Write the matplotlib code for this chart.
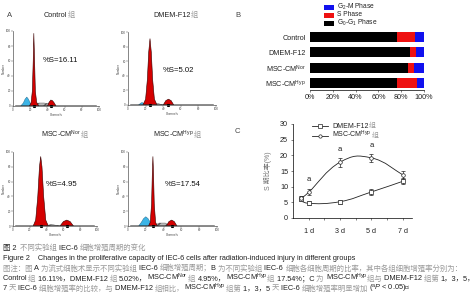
import numpy as np
import matplotlib
matplotlib.use("Agg")
import matplotlib.pyplot as plt
from matplotlib.path import Path
from matplotlib.patches import PathPatch, Rectangle

plt.rcParams['font.family'] = ['Liberation Sans', 'Noto Sans CJK SC', 'DejaVu Sans']
plt.rcParams['mathtext.fontset'] = 'custom'
plt.rcParams['mathtext.rm'] = 'Liberation Sans'
plt.rcParams['mathtext.it'] = 'Liberation Sans:italic'
plt.rcParams['axes.linewidth'] = 0.5

# ---- panel A: cell cycle histograms (channel, count)
ctrl_g1_ch = [19, 21, 22.5, 23.5, 24.2, 25, 26, 27.5, 30]
ctrl_g1_ct = [0, 4, 20, 60, 97, 65, 20, 5, 0]
ctrl_g2_ch = [40, 42, 44, 46, 48, 50]
ctrl_g2_ct = [0, 5, 8, 7, 4, 0]
ctrl_apo_ch = [9, 12, 14, 16, 18, 20, 22]
ctrl_apo_ct = [0, 4, 9, 12, 9, 4, 0]
ctrl_s_ch = [24, 30, 36, 42, 46]
ctrl_s_ct = [0, 4, 4, 3, 0]

dm_g1_ch = [17, 20, 22, 23.5, 25, 26.5, 28, 30, 33]
dm_g1_ct = [0, 8, 35, 72, 91, 72, 35, 8, 0]
dm_g2_ch = [40, 43, 46, 49, 52]
dm_g2_ct = [0, 6, 8, 6, 0]
dm_apo_ch = [12, 15, 17, 19]
dm_apo_ct = [0, 3, 3, 0]
dm_s_ch = [28, 34, 40]
dm_s_ct = [0, 2, 0]

nor_g1_ch = [24, 27, 29.5, 31.5, 33, 34.5, 36.5, 39, 42]
nor_g1_ct = [0, 8, 40, 80, 94, 80, 40, 8, 0]
nor_g2_ch = [56, 60, 64, 68, 72]
nor_g2_ct = [0, 6, 8, 6, 0]
nor_s_ch = [36, 46, 56]
nor_s_ct = [0, 2, 0]

hyp_g1_ch = [23, 25, 26.5, 27.3, 28, 28.7, 29.5, 31, 33]
hyp_g1_ct = [0, 5, 30, 70, 94, 70, 30, 5, 0]
hyp_g2_ch = [43, 46, 49, 52, 55]
hyp_g2_ct = [0, 6, 8, 6, 0]
hyp_apo_ch = [12, 15, 17.5, 20, 22.5, 25, 27]
hyp_apo_ct = [0, 5, 10, 12.5, 10, 5, 0]
hyp_s_ch = [29, 35, 42, 47]
hyp_s_ct = [0, 4, 4, 0]

s_labels = ["%S=16.11", "%S=5.02", "%S=4.95", "%S=17.54"]

# ---- panel B: phase percentages
groups = ["Control", "DMEM-F12", r"MSC-CM$^{\mathrm{Nor}}$", r"MSC-CM$^{\mathrm{Hyp}}$"]
g0g1 = [76.0, 87.7, 86.3, 76.0]
s_phase = [16.11, 5.02, 4.95, 17.54]
g2m = [7.89, 7.28, 8.75, 6.46]

# ---- panel C: S phase ratio over time
days = [0.5, 1, 3, 5, 7]
dmem_s = [6.2, 4.7, 5.2, 8.3, 11.7]
dmem_err = [0.7, 0.6, 0.7, 1.0, 1.0]
hyp_s = [6.4, 8.2, 17.8, 19.2, 13.8]
hyp_err = [0.7, 1.0, 1.5, 1.3, 1.2]
sig_days = [1, 3, 5]
sig_y = [11.3, 20.6, 22.1]

W, H = 474, 300
fig = plt.figure(figsize=(4.74, 3.0), dpi=100)
cap = fig.add_axes([0, 0, 1, 1], zorder=10)
cap.axis('off')
cap.patch.set_alpha(0)
cap.set_xlim(0, W)
cap.set_ylim(H, 0)

DARK = '#222222'
LIGHT = '#9a9a9a'


def chain(x, y, parts, size):
    # parts: list of (text, color); placed one after another on one baseline
    prev = cap.text(x, y, parts[0][0], color=parts[0][1], fontsize=size,
                    va='baseline', ha='left')
    for txt, col in parts[1:]:
        prev = cap.annotate(txt, xy=(1, y), xycoords=(prev, 'data'),
                            color=col, fontsize=size, va='baseline', ha='left')
    return prev


def px_axes(x0, y0, x1, y1):
    return fig.add_axes([x0 / W, 1 - y1 / H, (x1 - x0) / W, (y1 - y0) / H])


def histo(ax, g1, g2, apo, s):
    ax.plot([2, 97], [0.8, 0.8], color='#333333', lw=0.4)
    ax.fill(s[0], s[1], facecolor='#bbbbbb', edgecolor='#555555', lw=0.3, hatch='////')
    if apo is not None:
        ax.fill(apo[0], apo[1], facecolor='#3cb4e6', edgecolor='#1a5e80', lw=0.3)
    ax.fill(g1[0], g1[1], facecolor='#d40000', edgecolor='#300000', lw=0.4)
    ax.fill(g2[0], g2[1], facecolor='#d40000', edgecolor='#300000', lw=0.4)
    ax.plot([g1[0][4], g2[0][2]], [0, 0], 's', ms=1.2, color='k', clip_on=False)
    ax.set_xlim(0, 100)
    ax.set_ylim(0, 100)
    ax.set_xticks(np.arange(0, 101, 20))
    ax.set_yticks(np.arange(0, 101, 20))
    ax.tick_params(labelsize=2.2, length=1.2, width=0.3, pad=0.5, colors='#444444')
    ax.set_xlabel('Channels', fontsize=2.2, labelpad=0.3, color='#444444')
    ax.set_ylabel('Number', fontsize=2.2, labelpad=0.3, color='#444444')
    for sp in ['top', 'right']:
        ax.spines[sp].set_visible(False)
    for sp in ['left', 'bottom']:
        ax.spines[sp].set_color('#555555')


boxes = [(13, 31, 99, 106), (128, 32, 216, 105), (13, 152, 97, 226), (128, 152, 217, 226)]
hdata = [
    ((ctrl_g1_ch, ctrl_g1_ct), (ctrl_g2_ch, ctrl_g2_ct), (ctrl_apo_ch, ctrl_apo_ct), (ctrl_s_ch, ctrl_s_ct)),
    ((dm_g1_ch, dm_g1_ct), (dm_g2_ch, dm_g2_ct), (dm_apo_ch, dm_apo_ct), (dm_s_ch, dm_s_ct)),
    ((nor_g1_ch, nor_g1_ct), (nor_g2_ch, nor_g2_ct), None, (nor_s_ch, nor_s_ct)),
    ((hyp_g1_ch, hyp_g1_ct), (hyp_g2_ch, hyp_g2_ct), (hyp_apo_ch, hyp_apo_ct), (hyp_s_ch, hyp_s_ct)),
]
label_pos = [(43, 61), (163, 71), (46, 185), (165, 185)]
title_pos = [(44, 17), (153, 17), (41, 137), (153, 137)]
for box, hd, lab, lp, tp, g in zip(boxes, hdata, s_labels, label_pos, title_pos, groups):
    ax = px_axes(*box)
    ax.patch.set_alpha(0)
    histo(ax, *hd)
    cap.text(lp[0], lp[1], lab, fontsize=5.6, color='#111111', va='center', ha='left')
    chain(tp[0], tp[1], [(g, DARK), ('组', LIGHT)], 5.2)

cap.text(7, 17, 'A', fontsize=5.5, color='#444444', va='baseline')
cap.text(235, 17, 'B', fontsize=5.5, color='#444444', va='baseline')
cap.text(235, 133, 'C', fontsize=5.5, color='#444444', va='baseline')

# ---- panel B
axb = px_axes(310, 30, 424, 90)
yb = np.arange(len(groups))
axb.barh(yb, g0g1, height=0.66, color='black')
axb.barh(yb, s_phase, left=g0g1, height=0.66, color='#ee1111')
axb.barh(yb, g2m, left=np.add(g0g1, s_phase), height=0.66, color='#1111ee')
axb.set_ylim(3.46, -0.46)
axb.set_xlim(0, 100)
axb.set_xticks(np.arange(0, 101, 20))
axb.set_xticklabels(['%d%%' % v for v in range(0, 101, 20)])
axb.set_yticks(yb)
axb.set_yticklabels(groups)
axb.tick_params(axis='x', labelsize=5.2, length=1.5, width=0.4, pad=1.5, colors='#222222')
axb.tick_params(axis='y', labelsize=5.2, length=0, pad=3, colors='#222222')
for sp in ['top', 'right', 'left']:
    axb.spines[sp].set_visible(False)

leg_items = [('#1111ee', r'G$_2$-M Phase'), ('#ee1111', 'S Phase'), ('black', r'G$_0$-G$_1$ Phase')]
for i, (c, t) in enumerate(leg_items):
    yy = 7 + i * 8
    cap.add_patch(Rectangle((324, yy - 2.5), 10, 5, facecolor=c, edgecolor='none'))
    cap.text(337, yy, t, fontsize=4.8, va='center', ha='left', color='#222222')

# ---- panel C
axc = px_axes(293, 124, 412, 218)
axc.patch.set_alpha(0)


def smooth_path(xs, ys, k=0.22):
    # Bezier curve through the data points (smoothed line style)
    pts = np.column_stack([xs, ys])
    verts = [pts[0]]
    codes = [Path.MOVETO]
    n = len(pts)
    for i in range(n - 1):
        p0 = pts[max(i - 1, 0)]
        p1 = pts[i]
        p2 = pts[i + 1]
        p3 = pts[min(i + 2, n - 1)]
        c1 = p1 + (p2 - p0) * k
        c2 = p2 - (p3 - p1) * k
        verts += [c1, c2, p2]
        codes += [Path.CURVE4] * 3
    return Path(verts, codes)


for xs, ys in [(days, dmem_s), (days, hyp_s)]:
    axc.add_patch(PathPatch(smooth_path(xs, ys), facecolor='none', edgecolor='#222222', lw=0.6))
axc.errorbar(days, dmem_s, yerr=dmem_err, fmt='s', ms=2.4, mfc='white', mec='#222222',
             mew=0.5, ecolor='#222222', elinewidth=0.5, capsize=1.2, capthick=0.5)
axc.errorbar(days, hyp_s, yerr=hyp_err, fmt='o', ms=2.6, mfc='white', mec='#222222',
             mew=0.5, ecolor='#222222', elinewidth=0.5, capsize=1.2, capthick=0.5)
for d, yv in zip(sig_days, sig_y):
    axc.text(d, yv, 'a', fontsize=5.5, ha='center', va='bottom', color='#222222')
axc.set_xlim(0, 7.6)
axc.set_ylim(0, 30)
axc.set_yticks(np.arange(0, 31, 5))
axc.set_xticks(range(1, 8))
axc.set_xticklabels(['1 d', '', '3 d', '', '5 d', '', '7 d'])
axc.tick_params(axis='y', labelsize=5.2, length=1.5, width=0.4, pad=2, colors='#222222')
axc.tick_params(axis='x', labelsize=5.2, length=1.5, width=0.4, pad=6, colors='#222222')
axc.set_ylabel('S 期比率(%)', fontsize=5, color='#777777', labelpad=6)
for sp in ['top', 'right']:
    axc.spines[sp].set_visible(False)

lx = 312
for i, (mk, t) in enumerate([('s', 'DMEM-F12'), ('o', r'MSC-CM$^{\mathrm{Hyp}}$')]):
    yy = 126 + i * 9.5
    cap.plot([lx, lx + 16], [yy, yy], color='#222222', lw=0.6)
    cap.plot([lx + 8], [yy], mk, ms=2.4, mfc='white', mec='#222222', mew=0.5)
    chain(lx + 20, yy + 2, [(t, DARK), ('组', LIGHT)], 5)

# ---- caption
cs = 5.35
chain(3, 250, [('图 2  ', DARK), ('不同实验组 ', LIGHT), ('IEC-6 ', DARK), ('细胞增殖周期的变化', LIGHT)], cs)
cap.text(3, 260.5, 'Figure 2    Changes in the proliferative capacity of IEC-6 cells after '
         'radiation-induced injury in different groups', fontsize=cs, color=DARK, va='baseline')
chain(3, 270.5, [('图注：图 ', LIGHT), ('A ', DARK), ('为流式细胞术显示不同实验组 ', LIGHT), ('IEC-6 ', DARK),
                 ('细胞增殖周期；', LIGHT), ('B ', DARK), ('为不同实验组 ', LIGHT), ('IEC-6 ', DARK),
                 ('细胞各细胞周期的比率，其中各组细胞增殖率分别为：', LIGHT)], cs)
chain(3, 280.5, [('Control ', DARK), ('组 ', LIGHT), ('16.11%，DMEM-F12 ', DARK), ('组 ', LIGHT),
                 ('5.02%，', DARK), (r'MSC-CM$^{\mathrm{Nor}}$ ', DARK), ('组 ', LIGHT), ('4.95%，', DARK),
                 (r'MSC-CM$^{\mathrm{Hyp}}$ ', DARK), ('组 ', LIGHT), ('17.54%；C ', DARK), ('为 ', LIGHT),
                 (r'MSC-CM$^{\mathrm{Hyp}}$', DARK), ('组与 ', LIGHT), ('DMEM-F12 ', DARK), ('组第 ', LIGHT),
                 ('1，3，5，', DARK)], cs)
chain(3, 290.5, [('7 ', DARK), ('天 ', LIGHT), ('IEC-6 ', DARK), ('细胞增殖率的比较，与 ', LIGHT),
                 ('DMEM-F12 ', DARK), ('组相比，', LIGHT), (r'MSC-CM$^{\mathrm{Hyp}}$ ', DARK),
                 ('组第 ', LIGHT), ('1，3，5 ', DARK), ('天 ', LIGHT), ('IEC-6 ', DARK),
                 ('细胞增殖率明显增加', LIGHT), (r'($^{\mathrm{a}}$$P$ < 0.05)。', DARK)], cs)

fig.savefig('out.png', dpi=100)
